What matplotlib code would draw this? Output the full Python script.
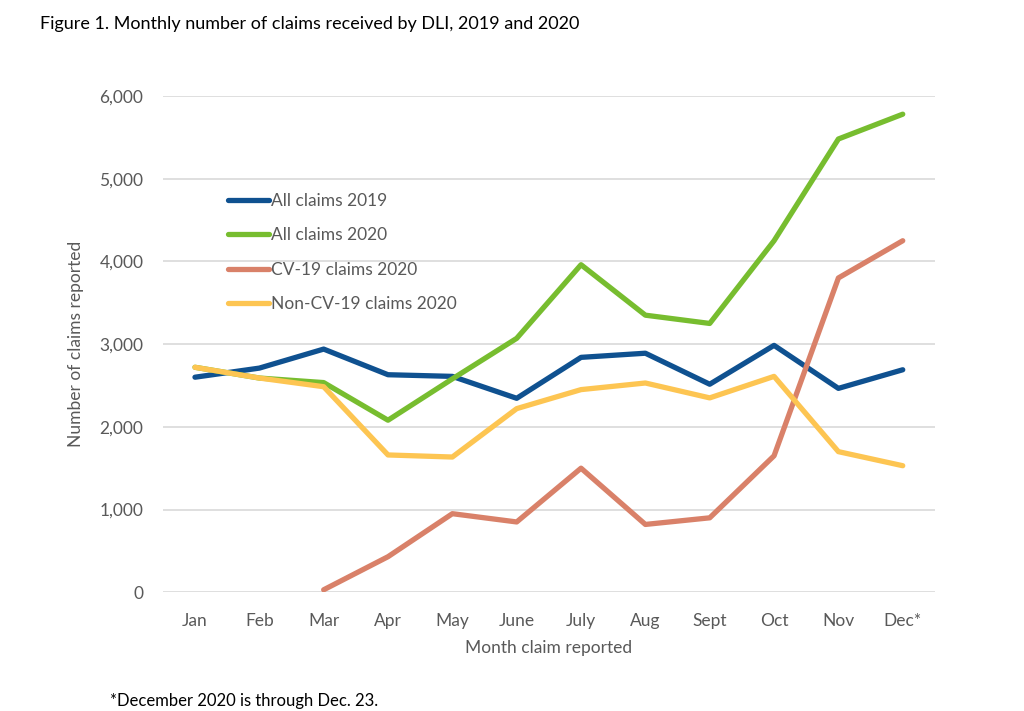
import matplotlib.pyplot as plt

plt.rcParams['font.family'] = ['Lato', 'DejaVu Sans']

months = ["Jan", "Feb", "Mar", "Apr", "May", "June", "July", "Aug", "Sept", "Oct", "Nov", "Dec*"]
all_2019 = [2600, 2710, 2940, 2630, 2610, 2345, 2840, 2890, 2515, 2985, 2465, 2690]
all_2020 = [2720, 2590, 2535, 2080, 2580, 3070, 3960, 3350, 3250, 4250, 5480, 5780]
cv_months = ["Mar", "Apr", "May", "June", "July", "Aug", "Sept", "Oct", "Nov", "Dec*"]
cv_2020 = [30, 430, 950, 850, 1500, 820, 900, 1650, 3800, 4250]
noncv_2020 = [2720, 2590, 2485, 1660, 1635, 2220, 2450, 2530, 2350, 2610, 1700, 1530]

gray = "#595959"
fig = plt.figure(figsize=(10.24, 7.11), dpi=100)
ax = fig.add_axes([0.159, 0.167, 0.754, 0.698])

xs = list(range(len(months)))
cx = [months.index(m) for m in cv_months]
kw = dict(lw=3.8, solid_capstyle='round', solid_joinstyle='round')
ax.plot(xs, all_2019, color="#0F5190", label="All claims 2019", **kw)
ax.plot(xs, all_2020, color="#77BD2F", label="All claims 2020", **kw)
ax.plot(cx, cv_2020, color="#D98169", label="CV-19 claims 2020", **kw)
ax.plot(xs, noncv_2020, color="#FDC552", label="Non-CV-19 claims 2020", **kw)

ax.set_xlim(-0.5, 11.5)
ax.set_ylim(0, 6000)
ax.set_xticks(xs)
ax.set_xticklabels(months)
ax.set_yticks(range(0, 6001, 1000))
ax.set_yticklabels([f"{v:,}" for v in range(0, 6001, 1000)])
ax.tick_params(length=0, labelsize=12.5, colors=gray, pad=15)
ax.tick_params(axis='y', pad=14)
ax.grid(axis='y', color="#D9D9D9", lw=1.2)
ax.set_axisbelow(True)
for s in ax.spines.values():
    s.set_visible(False)

ax.set_xlabel("Month claim reported", fontsize=12.5, color=gray, labelpad=8)
ax.set_ylabel("Number of claims reported", fontsize=12.5, color=gray, labelpad=11)

ax.legend(loc='upper left', bbox_to_anchor=(0.075, 0.818), frameon=False,
          fontsize=12.5, labelcolor=gray, handlelength=2.4, handletextpad=0.1,
          labelspacing=1.05, borderaxespad=0)

fig.text(0.039, 0.978, "Figure 1. Monthly number of claims received by DLI, 2019 and 2020",
         fontsize=13, color="black", va='top')
fig.text(0.107, 0.003, "*December 2020 is through Dec. 23.", fontsize=12, color="black", va='bottom')

fig.savefig("out.png", dpi=100)
